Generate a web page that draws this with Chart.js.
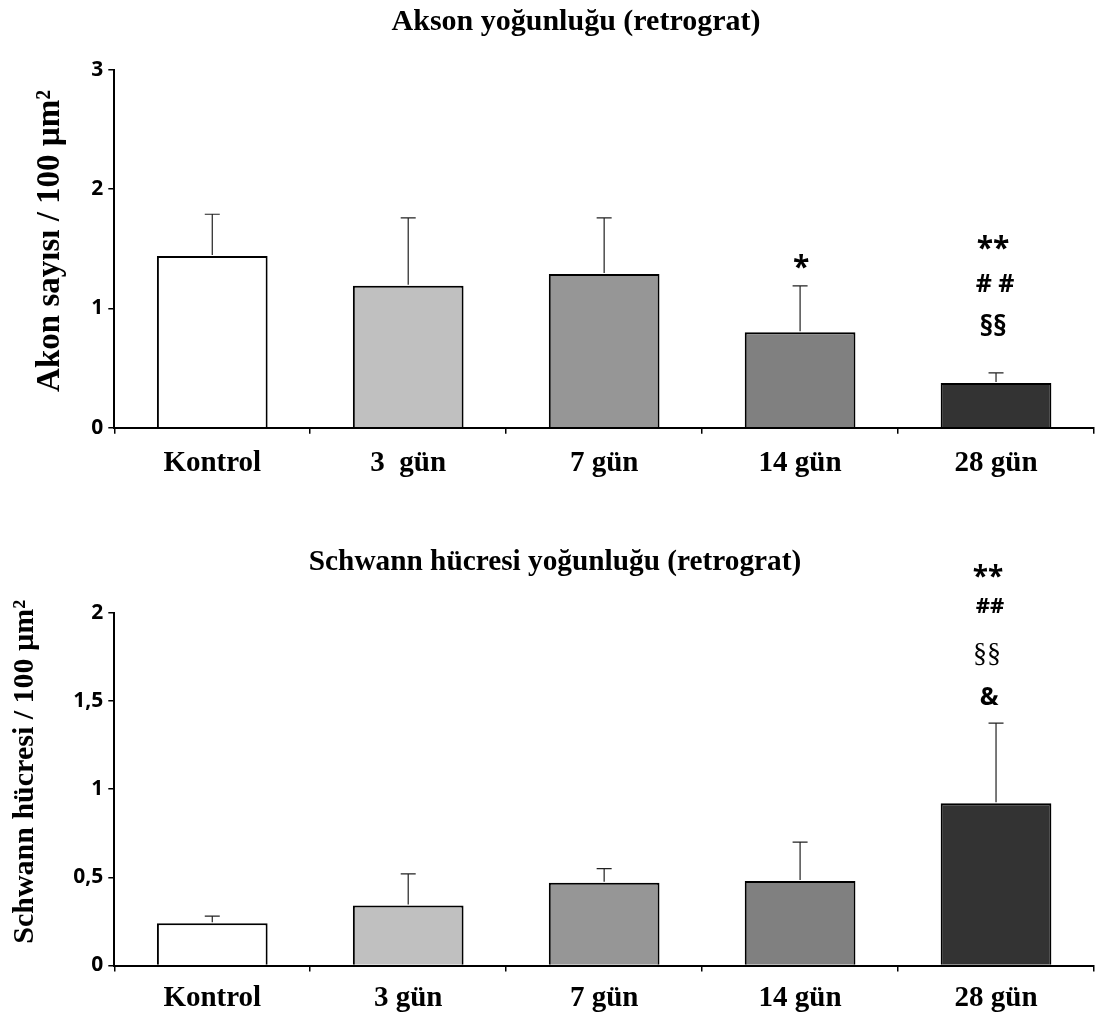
<!DOCTYPE html>
<html><head><meta charset="utf-8">
<script src="https://cdn.jsdelivr.net/npm/chart.js@4.4.0/dist/chart.umd.min.js"></script>
<style>
html,body{margin:0;padding:0;background:#fff;overflow:hidden;width:1096px;height:1021px;}
#c1{position:absolute;left:0;top:0;}
#c2{position:absolute;left:0;top:520px;}
</style></head><body>
<canvas id="c1" width="1096" height="500"></canvas>
<canvas id="c2" width="1096" height="501"></canvas>
<script>
// ---- data ----
const categoriesTop = ['Kontrol', '3  gün', '7 gün', '14 gün', '28 gün'];
const categoriesBottom = ['Kontrol', '3 gün', '7 gün', '14 gün', '28 gün'];
const aksonMean = [1.44, 1.19, 1.29, 0.80, 0.375];
const aksonSD = [0.35, 0.57, 0.47, 0.39, 0.085];
const schwannMean = [0.24, 0.34, 0.47, 0.48, 0.92];
const schwannSD = [0.04, 0.18, 0.08, 0.22, 0.455];
const aksonMarks = [[], [], [], ['*'], ['**', '# #', '§§']];
const schwannMarks = [[], [], [], [], ['**', '##', '§§', '&']];
const yTicksTop = ['0', '1', '2', '3'];
const yTicksBottom = ['0', '0,5', '1', '1,5', '2'];
const titleTop = 'Akson yoğunluğu (retrograt)';
const titleBottom = 'Schwann hücresi yoğunluğu (retrograt)';
const yTitleTop = 'Akon sayısı / 100 µm²';
const yTitleBottom = 'Schwann hücresi / 100 µm²';

const barColors = ['#ffffff', '#c0c0c0', '#969696', '#808080', '#333333'];
const SERIF = '"Liberation Serif", "Times New Roman", serif';
const SANS = '"Open Sans", "Liberation Sans", sans-serif';

function makeExtras(cfg) {
  return {
    id: 'extras',
    afterDatasetsDraw(chart) {
      const ctx = chart.ctx, y = chart.scales.y, area = chart.chartArea;
      const meta = chart.getDatasetMeta(0);
      ctx.save();
      // error bars (upper)
      cfg.mean.forEach((m, i) => {
        const bar = meta.data[i];
        const yb = y.getPixelForValue(m);
        const yt = y.getPixelForValue(m + cfg.sd[i]);
        ctx.strokeStyle = '#222';
        ctx.lineWidth = 1.2;
        ctx.beginPath();
        ctx.moveTo(bar.x, yb - 1);
        ctx.lineTo(bar.x, yt);
        ctx.moveTo(bar.x - 7.5, yt);
        ctx.lineTo(bar.x + 7.5, yt);
        ctx.stroke();
      });
      // significance marks
      ctx.fillStyle = '#000';
      ctx.textAlign = 'center';
      ctx.textBaseline = 'middle';
      cfg.marks.forEach((lines, i) => {
        if (!lines.length) return;
        const lay = cfg.markLayout[i];
        const bar = meta.data[i];
        const yt = y.getPixelForValue(cfg.mean[i] + cfg.sd[i]);
        lines.forEach((t, k) => {
          ctx.font = lay.font[k];
          ctx.fillText(t, bar.x + lay.dx[k], yt + lay.dy[k]);
        });
      });
      // y axis title
      ctx.font = cfg.yTitleFont;
      ctx.textBaseline = 'alphabetic';
      ctx.translate(area.left - cfg.yTitleDx, (area.top + area.bottom) / 2 + cfg.yTitleDy);
      ctx.rotate(-Math.PI / 2);
      ctx.fillText(cfg.yTitle, 0, 0);
      ctx.restore();
    }
  };
}

function makeChart(id, o) {
  return new Chart(document.getElementById(id), {
    type: 'bar',
    data: {
      labels: o.labels,
      datasets: [{
        data: o.mean,
        backgroundColor: barColors,
        borderColor: '#000',
        borderWidth: 2,
        borderSkipped: 'bottom',
        barPercentage: 0.565,
        categoryPercentage: 1.0
      }]
    },
    options: {
      responsive: false,
      animation: false,
      events: [],
      layout: { padding: { left: o.padLeft, right: 2, top: 0, bottom: 0 } },
      plugins: {
        legend: { display: false },
        tooltip: { enabled: false },
        title: {
          display: true,
          text: o.title,
          color: '#000',
          font: { family: SERIF, size: o.titleSize, weight: 'bold', lineHeight: 1.2 },
          padding: o.titlePad
        }
      },
      scales: {
        x: {
          type: 'category',
          offset: true,
          grid: { display: true, offset: true, drawOnChartArea: false, drawTicks: true, tickLength: 6, color: '#000', lineWidth: 1.5 },
          border: { display: true, color: '#000', width: 2 },
          ticks: { color: '#000', font: { family: SERIF, size: 29, weight: 'bold', lineHeight: 1.2 }, padding: o.xPad, maxRotation: 0, autoSkip: false },
          afterFit(s) { s.height = o.xHeight; }
        },
        y: {
          min: 0, max: o.yMax,
          ticks: { stepSize: o.step, color: '#000', padding: 5, font: { family: SANS, size: 21, weight: 'bold' }, callback: (v, i) => o.yTicks[i] },
          grid: { display: true, drawOnChartArea: false, drawTicks: true, tickLength: 6, color: '#000', lineWidth: 1.5 },
          border: { display: true, color: '#000', width: 2 },
          afterFit(s) { s.width = 114.3 - o.padLeft; }
        }
      }
    },
    plugins: [makeExtras(o.extras)]
  });
}

makeChart('c1', {
  labels: categoriesTop, mean: aksonMean, title: titleTop, titleSize: 30,
  padLeft: 58, titlePad: { top: 4.3, bottom: 29.7 }, xPad: 12.5, xHeight: 72.3,
  yMax: 3, step: 1, yTicks: yTicksTop,
  extras: {
    mean: aksonMean, sd: aksonSD, marks: aksonMarks,
    markLayout: {
      3: { dx: [1], dy: [-17], font: ['bold 30px ' + SANS] },
      4: { dx: [-3, -1, -3], dy: [-123, -88, -45], font: ['bold 30px ' + SANS, 'bold 25px ' + SANS, 'bold 28px ' + SANS] }
    },
    yTitle: yTitleTop, yTitleFont: 'bold 33px ' + SERIF, yTitleDx: 55, yTitleDy: -8
  }
});

makeChart('c2', {
  labels: categoriesBottom, mean: schwannMean, title: titleBottom, titleSize: 29.3,
  padLeft: 16, titlePad: { top: 24.7, bottom: 33.1 }, xPad: 10, xHeight: 55.5,
  yMax: 2, step: 0.5, yTicks: yTicksBottom,
  extras: {
    mean: schwannMean, sd: schwannSD, marks: schwannMarks,
    markLayout: {
      4: { dx: [-8, -6, -9, -7], dy: [-145, -116, -68, -25], font: ['bold 28px ' + SANS, 'bold 22px ' + SANS, '28px ' + SERIF, 'bold 25px ' + SANS] }
    },
    yTitle: yTitleBottom, yTitleFont: 'bold 30px ' + SERIF, yTitleDx: 81, yTitleDy: -17.5
  }
});
</script>
</body></html>
